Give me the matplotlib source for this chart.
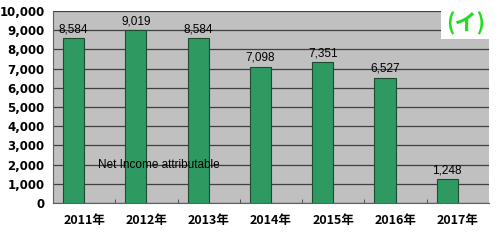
import matplotlib
matplotlib.use("Agg")
import matplotlib.pyplot as plt
import numpy as np
from matplotlib.ticker import FuncFormatter, FixedLocator
from matplotlib.patches import Rectangle

plt.rcParams['font.family'] = ['DejaVu Sans', 'Noto Sans CJK JP']

years = ["2011年", "2012年", "2013年", "2014年", "2015年", "2016年", "2017年"]
values = [8584, 9019, 8584, 7098, 7351, 6527, 1248]
value_labels = ["8,584", "9,019", "8,584", "7,098", "7,351", "6,527", "1,248"]
yticks = [0, 1000, 2000, 3000, 4000, 5000, 6000, 7000, 8000, 9000, 10000]

fig = plt.figure(figsize=(5, 2.46), dpi=100)
ax = fig.add_axes([0.106, 0.175, 0.872, 0.78])
ax.set_facecolor('#c0c0c0')

x = np.arange(len(years))
bars = ax.bar(x, values, width=-0.34, align='edge', color='#2e9a62',
              edgecolor='#1e4a30', linewidth=0.8, zorder=3)
for xi, v, lab in zip(x, values, value_labels):
    ax.text(xi - 0.17, v + 150, lab, ha='center', va='bottom', fontsize=8.5,
            family=['Liberation Sans', 'DejaVu Sans'], zorder=4)

ax.set_xlim(-0.5, len(years) - 0.5)
ax.set_ylim(0, 10000)
ax.set_yticks(yticks)
ax.yaxis.set_major_formatter(FuncFormatter(lambda v, p: f"{int(v):,}"))
ax.grid(axis='y', color='#404040', linewidth=0.9, zorder=1)
ax.set_xticks(x)
ax.set_xticklabels(years, fontweight='bold', fontsize=9,
                   family=['Noto Sans CJK JP', 'DejaVu Sans'])
ax.tick_params(axis='x', which='major', length=0, pad=8)
ax.xaxis.set_minor_locator(FixedLocator(np.arange(0.5, len(years) - 1, 1.0)))
ax.tick_params(axis='x', which='minor', direction='in', length=3, color='#404040')
ax.tick_params(axis='y', length=0, labelsize=8.5, pad=6)
for lab in ax.get_yticklabels():
    lab.set_fontweight('bold')

for s in ax.spines.values():
    s.set_visible(False)
ax.spines['left'].set_visible(True)
ax.spines['left'].set_color('#606060')
ax.spines['bottom'].set_visible(True)
ax.spines['bottom'].set_color('#606060')

ax.text(1.7 - 0.5, 2000, "Net Income attributable", ha='center', va='center',
        fontsize=8.5, family=['Liberation Sans', 'DejaVu Sans'], zorder=4)

fig.patches.append(Rectangle((0.882, 0.841), 0.096, 0.159, transform=fig.transFigure,
                             facecolor='white', edgecolor='none', zorder=5))
fig.text(0.931, 0.905, "(イ)", ha='center', va='center', fontsize=16, fontweight='bold',
         color='#22dd22', family=['Noto Sans CJK JP', 'DejaVu Sans'], zorder=6)

fig.savefig("out.png", dpi=100)
